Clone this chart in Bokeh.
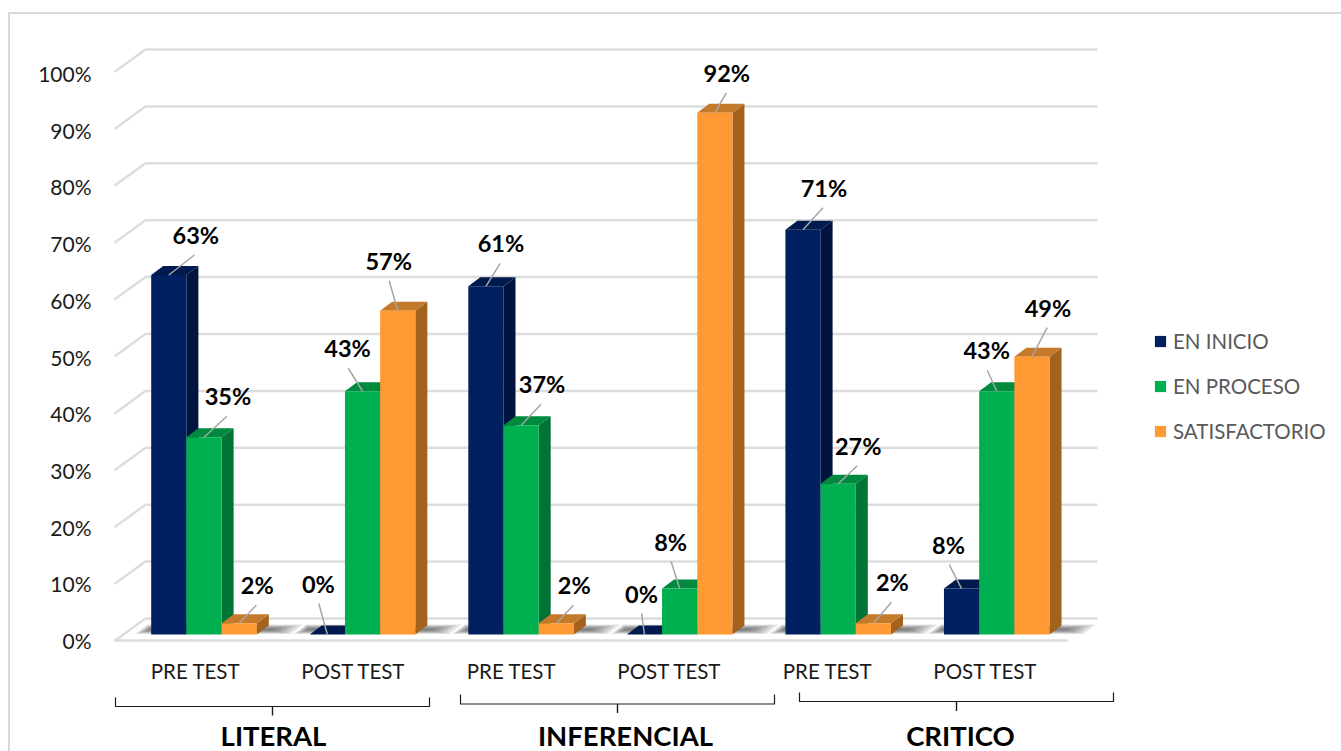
from bokeh.plotting import figure
from bokeh.embed import file_html
from bokeh.resources import INLINE
from bokeh.core.properties import value
from bokeh.models import (Range1d, LinearAxis, FixedTicker, Legend, LegendItem)

# ---- data ----
categories = ["PRE TEST", "POST TEST", "PRE TEST", "POST TEST", "PRE TEST", "POST TEST"]
groups = ["LITERAL", "INFERENCIAL", "CRITICO"]
series_names = ["EN INICIO", "EN PROCESO", "SATISFACTORIO"]
en_inicio = [63.4, 0, 61.4, 0, 71.4, 8.1]
en_proceso = [34.8, 42.9, 36.9, 8.1, 26.6, 42.9]
satisfactorio = [2, 57.1, 2, 92, 2, 49]
y_ticks = [0, 10, 20, 30, 40, 50, 60, 70, 80, 90, 100]

# ---- styles / layout ----
FRONT = ["#002060", "#00B050", "#FF9933"]
TOP = ["#001A4D", "#008A3E", "#C47A2A"]
SIDE = ["#00143F", "#007434", "#A3631F"]
FONT = "Lato"
W, H = 1341, 751
PAGE = 0
FRAME_LEFT = 100          # x of the plot frame
CAT0 = 203.5              # x of centre of first cluster
CAT_STEP = 158.55
LABEL0, LABEL_STEP = 195, 158   # category labels
BASE = 634.0              # y of value 0 on bar front
UNIT = 5.67               # px per percent
BAR_W = 35.2
DX, DY = 12.0, 9.0        # bar depth


def X(px):
    return (px - CAT0) / CAT_STEP


def Y(py):
    return (BASE - py) / UNIT


ddx = DX / CAT_STEP
ddy = DY / UNIT
bw = BAR_W / CAT_STEP

p = figure(width=W, height=H, output_backend="svg", toolbar_location=None,
           x_range=Range1d(X(FRAME_LEFT), X(PAGE + W)),
           y_range=Range1d(Y(PAGE + H), Y(PAGE)),
           min_border_left=FRAME_LEFT - PAGE, min_border_right=0,
           min_border_top=0, min_border_bottom=0,
           x_axis_type=None, y_axis_type=None)
p.grid.visible = False
p.outline_line_color = None
p.background_fill_color = None
p.border_fill_color = None
# chart border: left and top edge behind the transparent canvas
p.styles = {
    "background-color": "#FFFFFF",
    "background-image": "linear-gradient(#D9D9D9,#D9D9D9),linear-gradient(#D9D9D9,#D9D9D9)",
    "background-size": "2px 100%,100% 2px",
    "background-position": "8px 12px,8px 12px",
    "background-repeat": "no-repeat",
}

# y axis of its own: its labels sit on the front edge of the wall
AX_SHIFT = 6.0
p.extra_y_ranges = {"ticks": Range1d(Y(PAGE + H - AX_SHIFT), Y(PAGE - AX_SHIFT))}
ax = LinearAxis(y_range_name="ticks", ticker=FixedTicker(ticks=y_ticks),
                axis_line_color=None, major_tick_line_color=None,
                minor_tick_line_color=None, major_label_standoff=3,
                major_label_text_font=FONT, major_label_text_font_size="21px",
                major_label_text_color="#1A1A1A")
ax.major_label_overrides = {t: f"{t}%" for t in y_ticks}
p.add_layout(ax, "left")

# wall and floor
GRID = "#D9D9D9"
WALL_BASE, WALL_UNIT = 618.0, 5.69
wx0, wx1, fx0, fx1 = X(145), X(1097), X(114), X(1067)
for t in y_ticks:
    back = Y(WALL_BASE - WALL_UNIT * t)
    front = Y(WALL_BASE + 22.5 - WALL_UNIT * t)
    p.line([fx0, wx0, wx1], [front, back, back],
           line_color=GRID, line_width=2.5, line_alpha=0.9)
p.line([fx0, fx1], [Y(640), Y(640)], line_color=GRID, line_width=2.5, line_alpha=0.9)

# soft floor shadow round each cluster
for i in range(6):
    left = i - 1.5 * bw
    right = i + 1.5 * bw + ddx
    for f in (1, 0.85, 0.7, 0.55, 0.4, 0.25):
        b = (5 - 4.5 * f) / UNIT
        t = (5 + 5 * f) / UNIT
        slant = 9.5 * f * 1.3 / CAT_STEP
        l0 = left - 16 * f / CAT_STEP
        r0 = right + 22 * f / CAT_STEP
        p.patch([l0, r0, r0 + slant, l0 + slant], [b, b, t, t],
                fill_color="#000000", fill_alpha=0.1, line_color=None)

series = [en_inicio, en_proceso, satisfactorio]
fronts = [None, None, None]
for cat in range(6):
    for s in range(3):
        v = series[s][cat]
        x0 = cat + (s - 1.5) * bw
        x1 = x0 + bw
        p.patch([x1, x1 + ddx, x1 + ddx, x1], [0, ddy, v + ddy, v],
                fill_color=SIDE[s], line_color=None)
        p.patch([x0, x1, x1 + ddx, x0 + ddx], [v, v, v + ddy, v + ddy],
                fill_color=TOP[s], line_color=None)
        r = p.quad(left=[x0], right=[x1], bottom=[0], top=[v], fill_color=FRONT[s], line_color=None)
        if fronts[s] is None:
            fronts[s] = r

# data labels and their leader lines (offsets in px from bar top centre)
label_off = [
    [(27, -40), (24, -41), (18, -38)],
    [(-9, -51), (-15, -43), (-9, -48)],
    [(15, -43), (21, -41), (18, -38)],
    [(-3, -41), (-9, -47), (12, -40)],
    [(21, -42), (20, -38), (19, -41)],
    [(-13, -44), (-10, -41), (16, -49)],
]
label_off[1][2] = (-9, -50)
for cat in range(6):
    for s in range(3):
        v = series[s][cat]
        cx = cat + (s - 1) * bw
        ox, oy = label_off[cat][s]
        lx, ly = cx + ox / CAT_STEP, v - oy / UNIT
        p.line([cx, cx + ox * 0.95 / CAT_STEP], [v, v - (oy + 20) / UNIT],
               line_color="#A6A6A6", line_width=1.5)
        p.text([lx], [ly], text=[f"{round(v)}%"], text_font=value(FONT), text_font_style="bold",
               text_font_size="23.5px", text_color="#000000",
               text_align="center", text_baseline="middle")

# category labels
for cat, name in enumerate(categories):
    p.text([X(LABEL0 + LABEL_STEP * cat)], [Y(670)], text=[name], text_font=value(FONT),
           text_font_size="20.5px", text_color="#1A1A1A",
           text_align="center", text_baseline="middle")

# brackets and group labels
brackets = [(115, 429, 697, 706, 715), (460, 774, 694, 703.5, 712.5), (799, 1113, 692, 701, 710.5)]
group_x = [273, 625, 960]
for (a, b, y0, y1, y2), g, gx in zip(brackets, groups, group_x):
    xa, xb = X(a), X(b)
    xm = (xa + xb) / 2
    p.line([xa, xa, xb, xb], [Y(y0), Y(y1), Y(y1), Y(y0)], line_color="#1A1A1A", line_width=1.2)
    p.line([xm, xm], [Y(y1), Y(y2)], line_color="#1A1A1A", line_width=1.4)
    p.text([X(gx)], [Y(734.5)], text=[g], text_font=value(FONT), text_font_style="bold",
           text_font_size="27.5px", text_color="#000000",
           text_align="center", text_baseline="middle")

legend = Legend(items=[LegendItem(label=value(n), renderers=[r]) for n, r in zip(series_names, fronts)],
                location=(1153 - FRAME_LEFT, H - 443),
                orientation="vertical", border_line_color=None, background_fill_alpha=0,
                label_text_font=FONT, label_text_font_size="20.5px", label_text_color="#595959",
                glyph_width=14, glyph_height=14, spacing=21, padding=0, margin=0,
                label_standoff=6)
p.add_layout(legend)

open("out.html", "w").write(file_html(p, INLINE))
